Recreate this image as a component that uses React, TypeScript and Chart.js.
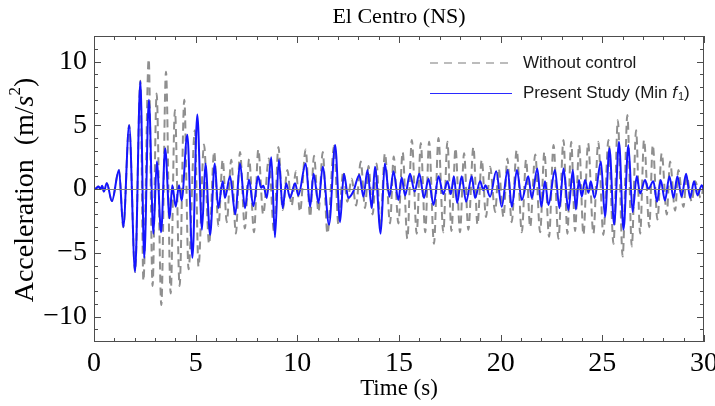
import React, { useEffect, useRef } from "react";
import { Chart, registerables } from "chart.js";

Chart.register(...registerables);

const TITLE = "El Centro (NS)";
const X_LABEL = "Time (s)";
const X_TICKS = [0, 5, 10, 15, 20, 25, 30];
const Y_TICKS = [-10, -5, 0, 5, 10];

// Present Study (Min f1) — extrema
const presentTime = [
  0, 0.1, 0.22, 0.32, 0.4, 0.48, 0.63, 0.88, 1.23, 1.44, 1.73, 2.02, 2.28, 2.47, 2.7, 2.92, 3.09, 3.3, 3.5, 3.72,
  3.85, 4.02, 4.18, 4.31, 4.59, 4.84, 5.08, 5.31, 5.48, 5.71, 5.94, 6.11, 6.33, 6.44, 6.69, 6.95, 7.18, 7.43, 7.62,
  7.84, 8.07, 8.22, 8.33, 8.5, 8.72, 8.9, 9.09, 9.28, 9.45, 9.64, 9.89, 10.05, 10.41, 10.63, 10.8, 11.04, 11.25,
  11.56, 11.86, 12.1, 12.29, 12.51, 12.75, 13.05, 13.25, 13.45, 13.66, 13.82, 14.1, 14.3, 14.53, 14.73, 14.97,
  15.13, 15.3, 15.54, 15.77, 16.0, 16.23, 16.45, 16.7, 16.94, 17.18, 17.38, 17.55, 17.7, 17.86, 18.08, 18.3, 18.58,
  18.74, 18.99, 19.15, 19.25, 19.48, 19.78, 20.05, 20.34, 20.55, 20.8, 21.04, 21.36, 21.53, 21.8, 22.0, 22.18,
  22.35, 22.67, 22.89, 23.09, 23.33, 23.55, 23.7, 23.85, 23.99, 24.15, 24.32, 24.43, 24.62, 24.93, 25.13, 25.35,
  25.58, 25.82, 26.04, 26.28, 26.49, 26.69, 26.86, 27.1, 27.26, 27.51, 27.69, 27.87, 28.08, 28.3, 28.5, 28.69,
  28.9, 29.12, 29.32, 29.51, 29.68, 29.89, 30,
];
const presentAccel = [
  0, 0.05, 0.2, 0.0, 0.25, -0.2, 0.45, -0.95, 1.5, -3.0, 5.0, -6.5, 8.45, -5.4, 7.0, -3.5, 2.15, -3.4, 3.2, -2.3,
  0.3, -1.4, 0.3, -0.9, 4.25, -5.4, 5.85, -3.2, 2.0, -3.6, 2.0, -1.5, 0.6, -0.7, 1.0, -2.0, 2.0, -1.5, 0.75,
  -1.35, 1.0, 0.1, 0.25, -0.7, 2.5, -3.8, 2.3, -1.5, 0.45, -0.7, 0.45, -0.5, 2.0, -1.4, 1.2, -1.1, 1.75,
  -2.8, 3.46, -2.6, 1.2, -0.7, -0.2, 1.1, -0.6, 1.5, -1.5, 1.75, -3.5, 2.0, -0.6, 1.4, -0.87,
  0.9, -0.5, 1.2, -0.2, 1.2, -0.7, 0.8, -1.26, 1.0, -0.4, 0.6, -0.4, 1.0, -1.1, 1.0, -1.0, 1.0,
  -0.7, 0.6, -0.1, 0.3, -0.6, 1.4, -1.4, 1.5, -1.4, 1.5, -0.87, 1.0, -0.7, 1.6, -1.4, 0.6,
  -1.26, 1.5, -1.5, 1.6, -1.65, 1.5, -1.6, 0.7, -0.6, 0.7, -0.3, 0.6, -0.7, 2.15, -2.2, 3.2,
  -2.8, 3.7, -3.2, 3.46, -1.8, 1.0, -0.35, 0.7, 0.0, 0.6, -1.0, 0.7, -0.9, 1.0, -0.7, 1.0,
  -0.6, 1.2, -0.7, 0.6, -0.5, 0.3, -0.1,
];

// Without control — extrema
const withoutTime = [
  0, 0.1, 0.22, 0.32, 0.4, 0.48, 0.63, 0.88, 1.23, 1.44, 1.73, 2.02, 2.28, 2.43, 2.69, 2.88, 3.08, 3.31, 3.54,
  3.77, 3.98, 4.21, 4.44, 4.65, 4.96, 5.14, 5.41, 5.66, 5.91, 6.12, 6.33, 6.53, 6.75, 6.98, 7.18, 7.42, 7.63, 7.87,
  8.08, 8.32, 8.6, 8.85, 9.07, 9.28, 9.51, 9.72, 9.93, 10.13, 10.41, 10.63, 10.82, 11.04, 11.25, 11.48, 11.81,
  12.02, 12.26, 12.46, 12.67, 12.89, 13.12, 13.33, 13.5, 13.7, 13.9, 14.08, 14.31, 14.56, 14.74, 14.97, 15.18,
  15.41, 15.63, 15.87, 16.07, 16.29, 16.48, 16.72, 16.94, 17.18, 17.38, 17.58, 17.78, 18.0, 18.2, 18.41, 18.66,
  18.86, 19.07, 19.28, 19.48, 19.73, 19.9, 20.14, 20.33, 20.54, 20.79, 21.04, 21.25, 21.45, 21.7, 21.94, 22.15,
  22.38, 22.6, 22.84, 23.09, 23.28, 23.47, 23.66, 23.86, 24.07, 24.3, 24.56, 24.8, 25.05, 25.3, 25.55, 25.76,
  26.0, 26.23, 26.45, 26.66, 26.86, 27.05, 27.31, 27.48, 27.71, 27.92, 28.17, 28.33, 28.58, 28.74, 28.99, 29.15,
  29.4, 29.56, 29.84, 30,
];
const withoutAccel = [
  0, 0.05, 0.2, 0.0, 0.25, -0.2, 0.45, -0.95, 1.5, -3.0, 5.0, -6.5, 8.5, -7.2, 10.2, -7.6, 7.5, -9.1, 9.2,
  -8.2, 6.2, -7.6, 7.0, -6.3, 4.6, -6.1, 3.5, -4.3, 2.94, -2.9, 2.3, -2.6, 2.3, -3.5, 2.9, -3.1, 2.35, -3.4,
  3.1, -2.0, 2.4, -3.3, 3.3, -1.65, 1.5, -1.3, 1.4, -1.8, 3.1, -2.2, 2.6, -1.8, 2.9, -3.5, 3.4,
  -2.8, 1.4, -1.0, 0.8, -1.3, 2.15, -1.5, 1.8, -2.0, 2.0, -3.0, 2.8, -2.7, 2.55, -2.7, 2.9,
  -3.9, 3.85, -3.5, 3.6, -3.4, 3.7, -4.3, 4.0, -3.4, 3.7, -3.3, 3.2, -3.4, 2.8, -3.2, 3.3,
  -2.8, 2.3, -2.2, 1.75, -1.8, 1.6, -2.2, 2.4, -2.6, 3.07, -3.4, 2.3, -3.0, 2.7, -3.4, 2.9,
  -3.75, 3.46, -3.9, 3.85, -3.5, 3.7, -3.3, 3.46, -3.6, 3.6, -3.5, 3.7, -3.6, 3.85, -4.3, 5.4,
  -5.3, 5.8, -4.5, 4.6, -3.5, 3.85, -3.0, 3.46, -2.4, 2.8, -2.0, 2.15, -1.7, 1.5, -1.4, 1.0,
  -1.0, 0.6, -0.7, 0.4,
];

const SERIF = "'Liberation Serif', 'Times New Roman', serif";
const SANS = "'Liberation Sans', Arial, sans-serif";

const decorPlugin = {
  id: "decor",
  afterDatasetsDraw(chart: any) {
    const { ctx, chartArea: a, scales } = chart;
    const xs = scales.x;
    const ys = scales.y;
    ctx.save();

    // zero line
    const y0 = Math.round(ys.getPixelForValue(0)) + 0.5;
    ctx.strokeStyle = "#808080";
    ctx.lineWidth = 1;
    ctx.setLineDash([]);
    ctx.beginPath();
    ctx.moveTo(a.left, y0);
    ctx.lineTo(a.right, y0);
    ctx.stroke();

    // frame
    ctx.strokeStyle = "#4d4d4d";
    ctx.lineWidth = 1;
    ctx.strokeRect(a.left + 0.5, a.top + 0.5, a.right - a.left - 1, a.bottom - a.top - 1);

    // ticks (inside, all four sides)
    ctx.beginPath();
    for (let t = xs.min; t <= xs.max + 1e-9; t += 1) {
      const len = Math.abs(t % 5) < 1e-9 ? 7 : 4;
      const px = Math.round(xs.getPixelForValue(t)) + 0.5;
      ctx.moveTo(px, a.bottom);
      ctx.lineTo(px, a.bottom - len);
      ctx.moveTo(px, a.top);
      ctx.lineTo(px, a.top + len);
    }
    for (let v = -11; v <= 11; v += 1) {
      const len = Math.abs(v % 5) < 1e-9 ? 7 : 4;
      const py = Math.round(ys.getPixelForValue(v)) + 0.5;
      ctx.moveTo(a.left, py);
      ctx.lineTo(a.left + len, py);
      ctx.moveTo(a.right, py);
      ctx.lineTo(a.right - len, py);
    }
    ctx.stroke();

    const cx = (a.left + a.right) / 2;
    const cy = (a.top + a.bottom) / 2;

    // title
    ctx.fillStyle = "#000";
    ctx.font = `22px ${SERIF}`;
    ctx.textAlign = "center";
    ctx.textBaseline = "middle";
    ctx.fillText(TITLE, cx, 17);

    // x title
    ctx.font = `23px ${SERIF}`;
    ctx.fillText(X_LABEL, cx, 389);

    // y title with superscript
    ctx.save();
    ctx.translate(26, cy + 1);
    ctx.rotate(-Math.PI / 2);
    const f1 = `28px ${SERIF}`;
    const fi = `italic 28px ${SERIF}`;
    const fs = `17px ${SERIF}`;
    const parts: [string, string, number][] = [
      ["Acceleration  (m/", f1, 0],
      ["s", fi, 0],
      ["2", fs, -10],
      [")", f1, 0],
    ];
    let total = 0;
    for (const [s, f] of parts) {
      ctx.font = f;
      total += ctx.measureText(s).width;
    }
    let x = -total / 2;
    ctx.textAlign = "left";
    ctx.textBaseline = "middle";
    for (const [s, f, dy] of parts) {
      ctx.font = f;
      ctx.fillText(s, x, dy);
      x += ctx.measureText(s).width;
    }
    ctx.restore();

    // legend
    const lx0 = a.right - 274;
    const lx1 = a.right - 192;
    const tx = a.right - 181;
    const r1 = a.top + 27;
    const r2 = a.top + 57;
    ctx.lineWidth = 1.3;
    ctx.strokeStyle = "#a6a6a6";
    ctx.setLineDash([8, 6]);
    ctx.beginPath();
    ctx.moveTo(lx0, r1);
    ctx.lineTo(lx1, r1);
    ctx.stroke();
    ctx.setLineDash([]);
    ctx.strokeStyle = "#2a2aff";
    ctx.lineWidth = 1.2;
    ctx.beginPath();
    ctx.moveTo(lx0, r2 + 0.5);
    ctx.lineTo(lx1, r2 + 0.5);
    ctx.stroke();

    ctx.fillStyle = "#1a1a1a";
    ctx.textAlign = "left";
    ctx.textBaseline = "middle";
    ctx.font = `17px ${SANS}`;
    ctx.fillText("Without control", tx, r1);
    let px2 = tx;
    const leg2: [string, string, number][] = [
      ["Present Study (Min ", `17px ${SANS}`, 0],
      ["f", `italic 17px ${SANS}`, 0],
      ["1", `11px ${SANS}`, 4],
      [")", `17px ${SANS}`, 0],
    ];
    for (const [s, f, dy] of leg2) {
      ctx.font = f;
      ctx.fillText(s, px2, r2 + dy);
      px2 += ctx.measureText(s).width + (s === "f" ? 1 : 0);
    }

    ctx.restore();
  },
};

export default function App() {
  const ref = useRef<HTMLCanvasElement | null>(null);

  useEffect(() => {
    if (!ref.current) return;
    const chart = new Chart(ref.current, {
      type: "line",
      data: {
        datasets: [
          {
            label: "Present Study (Min f1)",
            data: presentTime.map((t, i) => ({ x: t, y: presentAccel[i] })),
            borderColor: "#1414ff",
            borderWidth: 2,
            pointRadius: 0,
            cubicInterpolationMode: "monotone",
            order: 0,
          },
          {
            label: "Without control",
            data: withoutTime.map((t, i) => ({ x: t, y: withoutAccel[i] })),
            borderColor: "#8f8f8f",
            borderWidth: 2,
            borderDash: [8, 5],
            pointRadius: 0,
            cubicInterpolationMode: "monotone",
            order: 1,
          },
        ],
      },
      options: {
        animation: false,
        responsive: false,
        devicePixelRatio: 1,
        layout: { padding: { top: 36, right: 11, left: 0, bottom: 0 } },
        plugins: { legend: { display: false }, title: { display: false }, tooltip: { enabled: false } },
        scales: {
          x: {
            type: "linear",
            min: 0,
            max: 30,
            grid: { display: false, drawTicks: false },
            border: { display: false },
            afterBuildTicks: (s: any) => {
              s.ticks = X_TICKS.map((v) => ({ value: v }));
            },
            afterFit: (s: any) => {
              s.height = 64;
              s.paddingLeft = 0;
              s.paddingRight = 0;
            },
            ticks: {
              padding: 5,
              maxRotation: 0,
              color: "#000",
              font: { family: SERIF, size: 28 },
              callback: (v: any) => String(v),
            },
          },
          y: {
            type: "linear",
            min: -12,
            max: 12,
            grid: { display: false, drawTicks: false },
            border: { display: false },
            afterBuildTicks: (s: any) => {
              s.ticks = Y_TICKS.map((v) => ({ value: v }));
            },
            afterFit: (s: any) => {
              s.width = 94;
              s.paddingTop = 0;
              s.paddingBottom = 0;
            },
            ticks: {
              padding: 7,
              color: "#000",
              font: { family: SERIF, size: 28 },
              callback: (v: any) => (v < 0 ? "\u2212" + Math.abs(v) : String(v)),
            },
          },
        },
      },
      plugins: [decorPlugin],
    });
    return () => chart.destroy();
  }, []);

  return (
    <div style={{ position: "absolute", left: 0, top: 0, width: 715, height: 406, background: "#fff" }}>
      <canvas ref={ref} width={715} height={406} />
    </div>
  );
}
